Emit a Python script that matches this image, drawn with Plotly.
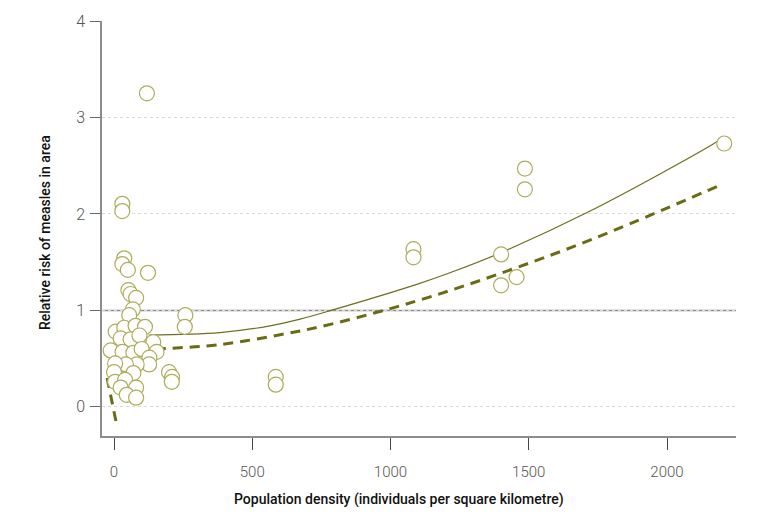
import plotly.graph_objects as go

# Observed areas: population density vs relative risk
density = [119, 30, 30, 37, 30, 50, 123, 52, 60, 80, 68, 55, 258, 256, 6, 37, 78, 112,
           24, 60, 92, 142, -12, 31, 70, 100, 154, 128, 127, 82, 43, 4, 0, 70, 4, 40,
           24, 80, 46, 80, 199, 210, 209, 585, 585, 1083, 1083, 1400, 1400, 1456,
           1486, 1486, 2207]
risk = [3.25, 2.105, 2.03, 1.54, 1.48, 1.42, 1.39, 1.21, 1.17, 1.13, 1.01, 0.95, 0.95, 0.83,
        0.78, 0.82, 0.84, 0.83, 0.71, 0.70, 0.74, 0.67, 0.585, 0.57, 0.56, 0.60, 0.57,
        0.51, 0.44, 0.44, 0.44, 0.45, 0.36, 0.35, 0.26, 0.28, 0.20, 0.20, 0.125, 0.095,
        0.36, 0.31, 0.26, 0.31, 0.23, 1.635, 1.55, 1.58, 1.26, 1.345, 2.47, 2.255, 2.73]

# Solid fitted curve
solid_x = [125, 383, 564, 673, 785, 1095, 1215, 1384, 1722, 2167, 2190]
solid_y = [0.745, 0.77, 0.84, 0.91, 1.0, 1.27, 1.39, 1.58, 2.03, 2.725, 2.77]

# Dashed fitted curve (two visible pieces)
dash_x = [-25, 10, None, 150, 383, 624, 745, 944, 1143, 1384, 1732, 2201]
dash_y = [0.30, -0.19, None, 0.60, 0.646, 0.76, 0.83, 0.975, 1.14, 1.37, 1.74, 2.31]

x_ticks = [0, 500, 1000, 1500, 2000]
y_ticks = [0, 1, 2, 3, 4]

FONT = "Roboto, Liberation Sans Narrow, DejaVu Sans Condensed, sans-serif"

fig = go.Figure()
fig.add_trace(go.Scatter(x=dash_x, y=dash_y, mode="lines", line_shape="spline",
                         line=dict(color="#6b6b14", width=3, dash="10px,7px"),
                         hoverinfo="skip", showlegend=False))
fig.add_trace(go.Scatter(x=solid_x, y=solid_y, mode="lines", line_shape="spline",
                         line=dict(color="#6e6e1e", width=1.2),
                         hoverinfo="skip", showlegend=False))
fig.add_trace(go.Scatter(x=density, y=risk, mode="markers",
                         marker=dict(size=15, color="white",
                                     line=dict(color="#adad5c", width=1.2)),
                         showlegend=False))

fig.add_shape(type="line", xref="paper", yref="y", x0=0, x1=1, y0=1, y1=1,
              line=dict(color="#8c8c8c", width=1.5), layer="between")

fig.update_layout(
    width=771, height=517,
    margin=dict(l=102, r=35, t=15, b=81),
    paper_bgcolor="white", plot_bgcolor="white",
    font=dict(family=FONT, size=15, color="#555"),
    xaxis=dict(range=[-43.4, 2249.5], tickvals=x_ticks, showgrid=False, zeroline=False,
               showline=True, linecolor="#8c8c8c", linewidth=1.5,
               ticks="outside", ticklen=12, tickcolor="#444", tickwidth=1,
               ticklabelstandoff=9, tickfont=dict(size=15, color="#555", weight=300)),
    yaxis=dict(range=[-0.302, 4.0], tickvals=y_ticks, showgrid=True, gridcolor="#d8d8d8",
               griddash="dot", gridwidth=1, zeroline=False,
               showline=True, linecolor="#8c8c8c", linewidth=1.5,
               ticks="outside", ticklen=10, tickcolor="#666", tickwidth=1,
               ticklabelstandoff=2, tickfont=dict(size=16, color="#555", weight=300)),
    annotations=[
        dict(text="Population density (individuals per square kilometre)", xref="paper",
             yref="paper", x=0.4685, y=-0.152, xanchor="center", yanchor="middle",
             showarrow=False, font=dict(family=FONT, size=14, color="#111", weight=500)),
        dict(text="Relative risk of measles in area", xref="paper", yref="paper",
             x=-0.0899, y=0.489, xanchor="center", yanchor="middle", textangle=-90,
             showarrow=False, font=dict(family=FONT, size=14, color="#111", weight=500)),
    ],
)

fig.write_html("out.html", config={"displayModeBar": False},
               post_script="document.body.style.margin='0';")
